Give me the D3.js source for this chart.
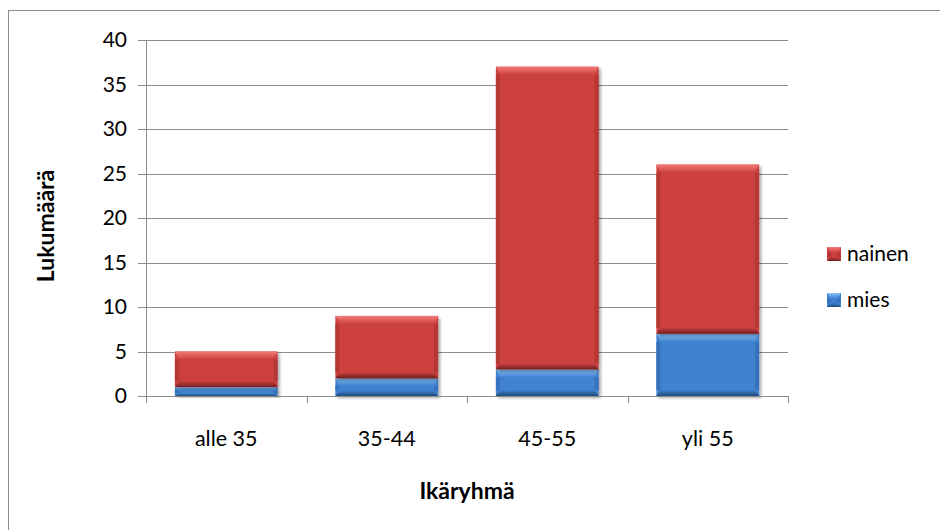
<!DOCTYPE html>
<html>
<head>
<meta charset="utf-8">
<script src="https://cdn.jsdelivr.net/npm/d3@7"></script>
<style>
  html, body { margin: 0; padding: 0; background: #fff; }
  svg { display: block; font-family: Lato, "Open Sans", sans-serif; }
</style>
</head>
<body>
<svg id="chart" width="940" height="530"></svg>
<script>
// ---- data ----
const categories = ["alle 35", "35-44", "45-55", "yli 55"];
const mies = [1, 2, 3, 7];
const nainen = [4, 7, 34, 19];
const yTicks = [0, 5, 10, 15, 20, 25, 30, 35, 40];
const seriesNames = ["nainen", "mies"];
const xTitle = "Ikäryhmä";
const yTitle = "Lukumäärä";

// ---- layout ----
const svg = d3.select("#chart");
const plot = { left: 146, right: 788, top: 40, bottom: 396 };

const x = d3.scaleBand().domain(categories).range([plot.left, plot.right]).paddingInner(0.36).paddingOuter(0.18);
const xBand = d3.scaleBand().domain(categories).range([plot.left, plot.right]);
const y = d3.scaleLinear().domain([0, 40]).range([plot.bottom, plot.top]);

const colors = {
  mies:   { base: "#4082d0", light: "#8cc4fa", dark: "#1f4878", side: "#3672bd" },
  nainen: { base: "#cc4040", light: "#f47b77", dark: "#72201f", side: "#b53736" }
};

// outer frame
svg.append("rect").attr("x", 8.5).attr("y", 10.5).attr("width", 1000).attr("height", 1000)
  .attr("fill", "#fff").attr("stroke", "#8c8c8c").attr("stroke-width", 1);

const defs = svg.append("defs");
Object.entries(colors).forEach(([k, c]) => {
  const gt = defs.append("linearGradient").attr("id", "top-" + k).attr("x1", 0).attr("y1", 0).attr("x2", 0).attr("y2", 1);
  gt.append("stop").attr("offset", "0%").attr("stop-color", c.light);
  gt.append("stop").attr("offset", "100%").attr("stop-color", c.base);
  const gb = defs.append("linearGradient").attr("id", "bot-" + k).attr("x1", 0).attr("y1", 0).attr("x2", 0).attr("y2", 1);
  gb.append("stop").attr("offset", "0%").attr("stop-color", c.base);
  gb.append("stop").attr("offset", "100%").attr("stop-color", c.dark);
});
const shadow = defs.append("filter").attr("id", "shadow").attr("x", "-10%").attr("y", "-10%").attr("width", "130%").attr("height", "130%");
shadow.append("feGaussianBlur").attr("in", "SourceAlpha").attr("stdDeviation", 1.5);
shadow.append("feOffset").attr("dx", 2).attr("dy", 2).attr("result", "ob");
shadow.append("feComponentTransfer").append("feFuncA").attr("type", "linear").attr("slope", 0.35);
const fm = shadow.append("feMerge");
fm.append("feMergeNode");
fm.append("feMergeNode").attr("in", "SourceGraphic");

// gridlines
svg.append("g").selectAll("line").data(yTicks).join("line")
  .attr("x1", plot.left - 8).attr("x2", plot.right)
  .attr("y1", d => Math.round(y(d)) + 0.5).attr("y2", d => Math.round(y(d)) + 0.5)
  .attr("stroke", "#8c8c8c").attr("stroke-width", 1);

// y axis line
svg.append("line").attr("x1", plot.left + 0.5).attr("x2", plot.left + 0.5)
  .attr("y1", plot.top).attr("y2", plot.bottom + 1).attr("stroke", "#8c8c8c");

// x ticks at category boundaries
const bounds = categories.map(c => xBand(c)).concat([plot.right]);
svg.append("g").selectAll("line").data(bounds).join("line")
  .attr("x1", d => Math.round(d) + 0.5).attr("x2", d => Math.round(d) + 0.5)
  .attr("y1", plot.bottom).attr("y2", plot.bottom + 7)
  .attr("stroke", "#8c8c8c");

// y tick labels
svg.append("g").selectAll("text").data(yTicks).join("text")
  .attr("x", 127).attr("y", d => y(d)).attr("dy", "0.35em")
  .attr("text-anchor", "end").attr("font-size", 21).attr("fill", "#000")
  .text(d => d);

// x tick labels
svg.append("g").selectAll("text").data(categories).join("text")
  .attr("x", d => xBand(d) + xBand.bandwidth() / 2).attr("y", 438).attr("dy", "0.35em")
  .attr("text-anchor", "middle").attr("font-size", 21.5).attr("fill", "#000")
  .text(d => d);

// bars
const stacked = d3.stack().keys(["mies", "nainen"])(categories.map((c, i) => ({ cat: c, mies: mies[i], nainen: nainen[i] })));
const bevelTop = 8, bevelBot = 6, bevelSide = 4;
function bevelRect(g, key, x0, y0, w, h) {
  const c = colors[key];
  g.append("rect").attr("x", x0).attr("y", y0).attr("width", w).attr("height", h).attr("fill", c.base);
  const bt = Math.min(bevelTop, h * 0.4), bb = Math.min(bevelBot, h * 0.3);
  g.append("rect").attr("x", x0).attr("y", y0 + bt).attr("width", bevelSide).attr("height", Math.max(0, h - bt - bb)).attr("fill", c.side);
  g.append("rect").attr("x", x0 + w - bevelSide).attr("y", y0 + bt).attr("width", bevelSide).attr("height", Math.max(0, h - bt - bb)).attr("fill", c.side);
  g.append("path").attr("d", `M${x0},${y0}H${x0 + w}L${x0 + w - bevelSide},${y0 + bt}H${x0 + bevelSide}Z`).attr("fill", `url(#top-${key})`);
  g.append("path").attr("d", `M${x0},${y0 + h}H${x0 + w}L${x0 + w - bevelSide},${y0 + h - bb}H${x0 + bevelSide}Z`).attr("fill", `url(#bot-${key})`);
}
stacked.forEach(layer => {
  const key = layer.key;
  const g = svg.append("g").attr("class", "series-" + key);
  layer.forEach(d => {
    const seg = g.append("g").attr("filter", "url(#shadow)");
    bevelRect(seg, key, x(d.data.cat), y(d[1]), x.bandwidth(), y(d[0]) - y(d[1]));
  });
});

// x axis line on top
svg.append("line").attr("x1", plot.left).attr("x2", plot.right)
  .attr("y1", plot.bottom + 0.5).attr("y2", plot.bottom + 0.5).attr("stroke", "#8c8c8c");

// axis titles
svg.append("text").attr("x", xBand(categories[0]) + (plot.right - plot.left) / 2).attr("y", 491).attr("dy", "0.35em")
  .attr("text-anchor", "middle").attr("font-size", 23).attr("font-weight", "bold").text(xTitle);
svg.append("text").attr("transform", `translate(46,${(plot.top + plot.bottom) / 2 + 8}) rotate(-90)`).attr("dy", "0.35em")
  .attr("text-anchor", "middle").attr("font-size", 23).attr("font-weight", "bold").text(yTitle);

// legend
const legY = d3.scalePoint().domain(seriesNames).range([254, 300]);
const leg = svg.append("g").selectAll("g").data(seriesNames).join("g")
  .attr("transform", d => `translate(827,${legY(d)})`);
leg.each(function(d) { bevelRect(d3.select(this), d, 0, -7, 14, 14); });
leg.append("text").attr("x", 20).attr("dy", "0.35em").attr("font-size", 21).text(d => d);
</script>
</body>
</html>
